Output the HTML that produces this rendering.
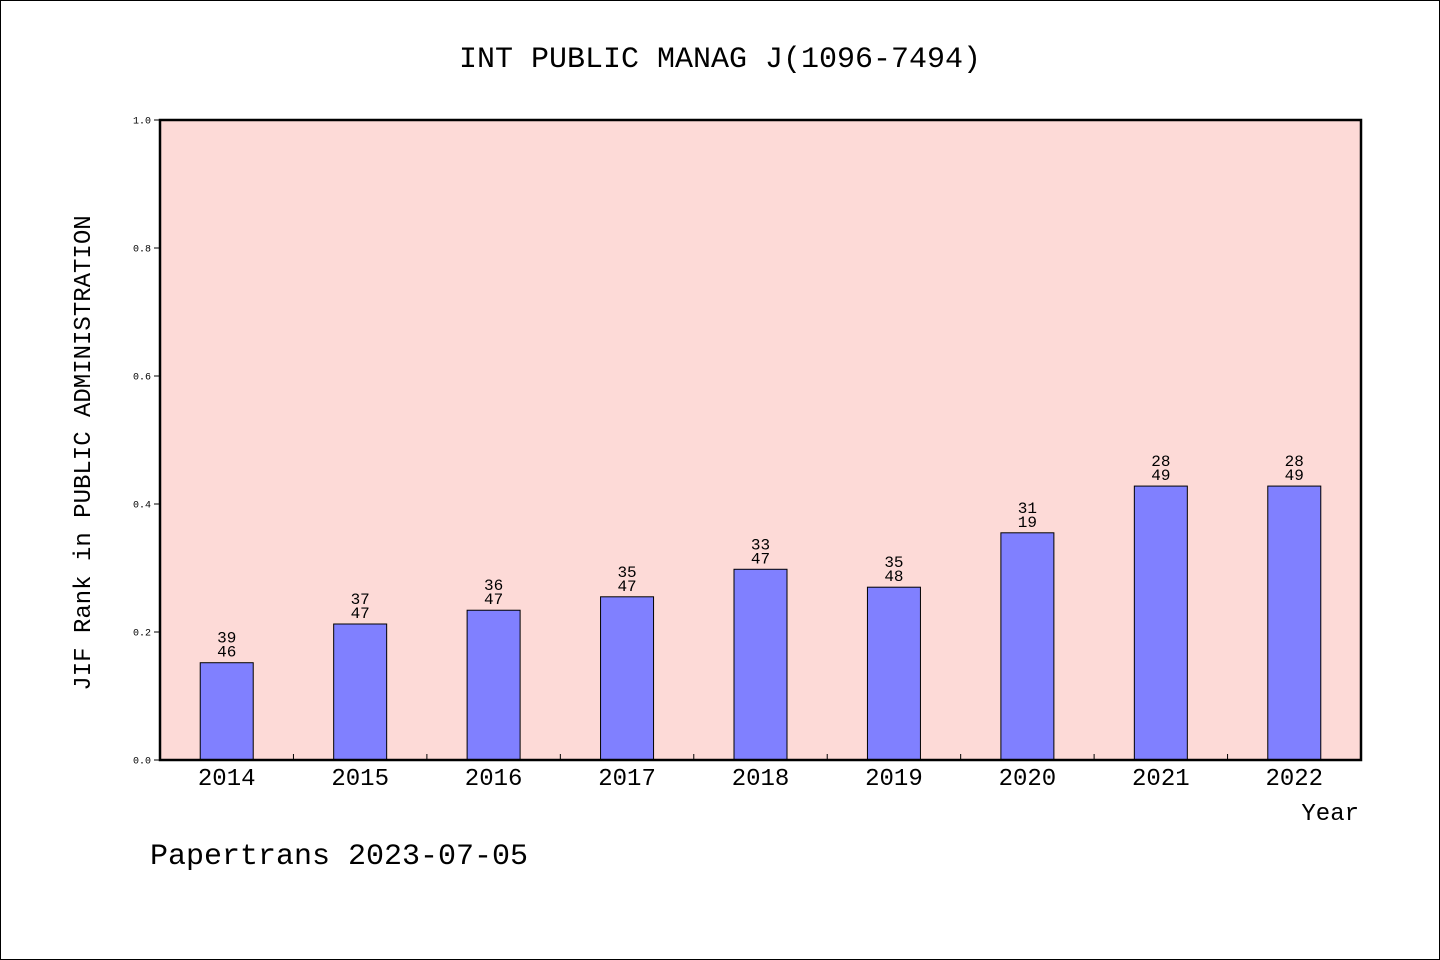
<!DOCTYPE html>
<html><head><meta charset="utf-8"><style>
html,body{margin:0;padding:0;background:#fff;}
svg{display:block;font-family:"Liberation Mono",monospace;}
</style></head><body>
<svg id="chart" width="1440" height="960" viewBox="0 0 1440 960" xmlns="http://www.w3.org/2000/svg">
<rect x="0.5" y="0.5" width="1439" height="959" fill="#fff" stroke="#000"/>
<text x="720" y="67" font-size="30" text-anchor="middle">INT PUBLIC MANAG J(1096-7494)</text>
<rect x="160" y="120" width="1201" height="640" fill="#fddad7"/>
<g id="ticks"></g>
<g id="bars"></g>
<rect x="160" y="120" width="1201" height="640" fill="none" stroke="#000" stroke-width="2.5"/>
<text transform="translate(90,453) rotate(-90)" font-size="24" text-anchor="middle">JIF Rank in PUBLIC ADMINISTRATION</text>
<text x="1359" y="820" font-size="24" text-anchor="end">Year</text>
<text x="150" y="864" font-size="30">Papertrans 2023-07-05</text>
</svg>
<script>
const categories=["2014","2015","2016","2017","2018","2019","2020","2021","2022"];
const values=[0.152,0.2125,0.234,0.255,0.298,0.270,0.355,0.428,0.428];
const ranks=["39","37","36","35","33","35","31","28","28"];
const totals=["46","47","47","47","47","48","19","49","49"];
const yTicks=[0,0.2,0.4,0.6,0.8,1.0];
const NS="http://www.w3.org/2000/svg";
const X0=160,W=1201,Y0=760,H=640;
const step=W/categories.length;
const x=i=>X0+step*(i+0.5);
const y=v=>Y0-v*H;
function mk(t,a,p){const e=document.createElementNS(NS,t);for(const k in a)e.setAttribute(k,a[k]);p.appendChild(e);return e;}
const tg=document.getElementById('ticks'),bg=document.getElementById('bars');
yTicks.forEach(v=>{
 const l=mk('line',{x1:154,x2:160,y1:y(v),y2:y(v),stroke:'#000'},tg);
 
 
 const t=mk('text',{x:151,y:y(v)+3.5,'font-size':10,'text-anchor':'end'},tg);
 
 
 t.textContent=v.toFixed(1);
});
for(let i=1;i<categories.length;i++){
 const l=mk('line',{x1:X0+step*i,x2:X0+step*i,y1:Y0,y2:Y0-6,stroke:'#000'},tg);
 
 
}
categories.forEach((c,i)=>{
 const r=mk('rect',{x:x(i)-26.5,y:y(values[i]),width:53,height:values[i]*H,fill:'#8080ff',stroke:'#000','stroke-width':1},bg);
 
 
 const t1=mk('text',{x:x(i),y:y(values[i])-20,'font-size':16,'text-anchor':'middle'},bg);
 
 
 t1.textContent=ranks[i];
 const t2=mk('text',{x:x(i),y:y(values[i])-6,'font-size':16,'text-anchor':'middle'},bg);
 
 
 t2.textContent=totals[i];
 const xl=mk('text',{x:x(i),y:785,'font-size':24,'text-anchor':'middle'},bg);
 
 
 xl.textContent=c;
});
</script>
</body></html>
